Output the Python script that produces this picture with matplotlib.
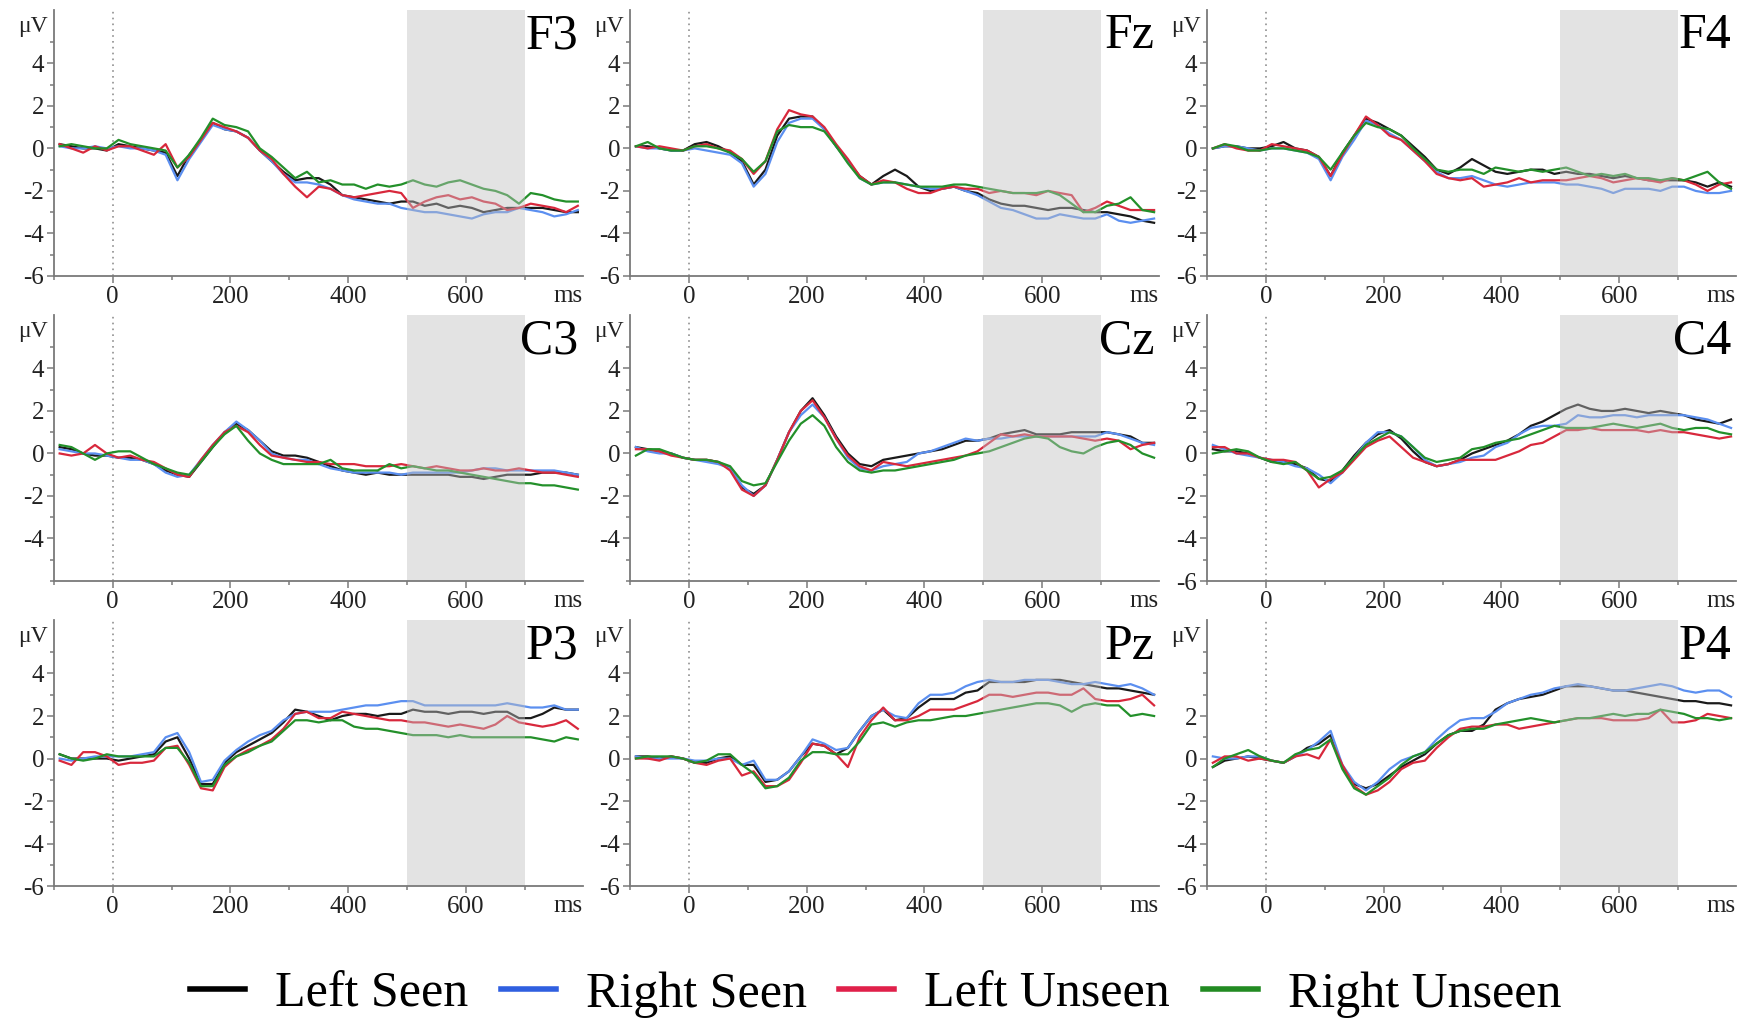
import matplotlib.pyplot as plt
from matplotlib.lines import Line2D
import numpy as np

# sample times (ms) used for every waveform
times = [-90, -70, -50, -30, -10, 10, 30, 50, 70, 90, 110, 130, 150, 170, 190,
         210, 230, 250, 270, 290, 310, 330, 350, 370, 390, 410, 430, 450, 470,
         490, 510, 530, 550, 570, 590, 610, 630, 650, 670, 690, 710, 730, 750,
         770, 790]

channels = ["F3", "Fz", "F4", "C3", "Cz", "C4", "P3", "Pz", "P4"]
conditions = ["Left Seen", "Right Seen", "Left Unseen", "Right Unseen"]
line_colors = ["#1a1a1a", "#5b8ff0", "#d8283c", "#23902a"]
legend_colors = ["#000000", "#2f5fe0", "#e0204a", "#228b22"]

# F3
f3_left_seen = [0.2, 0.1, 0.0, 0.0, -0.1, 0.2, 0.1, 0.0, -0.1, -0.2, -1.3, -0.3, 0.4, 1.2, 0.9, 0.8, 0.5, -0.1, -0.6, -1.1, -1.5, -1.4, -1.4, -1.7, -2.2, -2.3, -2.4, -2.5, -2.6, -2.5, -2.5, -2.7, -2.6, -2.8, -2.7, -2.8, -3.0, -2.9, -2.8, -2.8, -2.8, -2.8, -2.9, -3.0, -3.0]
f3_right_seen = [0.1, 0.0, 0.0, 0.1, 0.0, 0.1, 0.0, 0.0, -0.1, -0.3, -1.5, -0.5, 0.3, 1.1, 0.9, 0.8, 0.5, -0.1, -0.6, -1.2, -1.6, -1.6, -1.7, -1.9, -2.2, -2.4, -2.5, -2.6, -2.6, -2.8, -2.9, -3.0, -3.0, -3.1, -3.2, -3.3, -3.1, -3.0, -3.0, -2.8, -2.9, -3.0, -3.2, -3.1, -2.9]
f3_left_unseen = [0.2, 0.0, -0.2, 0.1, -0.1, 0.1, 0.1, -0.1, -0.3, 0.2, -0.9, -0.4, 0.4, 1.2, 1.0, 0.8, 0.5, -0.1, -0.5, -1.2, -1.8, -2.3, -1.8, -1.9, -2.2, -2.3, -2.2, -2.1, -2.0, -2.1, -2.8, -2.5, -2.3, -2.2, -2.4, -2.3, -2.5, -2.6, -2.9, -2.8, -2.6, -2.7, -2.8, -3.0, -2.7]
f3_right_unseen = [0.1, 0.2, 0.1, 0.0, 0.0, 0.4, 0.2, 0.1, 0.0, -0.1, -0.9, -0.3, 0.5, 1.4, 1.1, 1.0, 0.8, 0.0, -0.4, -0.9, -1.4, -1.1, -1.6, -1.5, -1.7, -1.7, -1.9, -1.7, -1.8, -1.7, -1.5, -1.7, -1.8, -1.6, -1.5, -1.7, -1.9, -2.0, -2.2, -2.6, -2.1, -2.2, -2.4, -2.5, -2.5]

# Fz
fz_left_seen = [0.1, 0.1, 0.0, -0.1, -0.1, 0.2, 0.3, 0.1, -0.2, -0.6, -1.7, -1.0, 0.6, 1.4, 1.5, 1.5, 0.9, 0.1, -0.6, -1.3, -1.7, -1.3, -1.0, -1.3, -1.8, -2.0, -1.9, -1.8, -2.0, -2.1, -2.4, -2.6, -2.7, -2.7, -2.8, -2.9, -2.8, -2.8, -2.9, -3.0, -3.0, -3.1, -3.2, -3.4, -3.5]
fz_right_seen = [0.1, 0.0, 0.0, -0.1, -0.1, 0.0, -0.1, -0.2, -0.3, -0.7, -1.8, -1.2, 0.3, 1.2, 1.4, 1.4, 0.9, 0.1, -0.6, -1.4, -1.7, -1.6, -1.6, -1.7, -1.8, -1.9, -1.9, -1.8, -2.0, -2.2, -2.5, -2.8, -2.9, -3.1, -3.3, -3.3, -3.1, -3.2, -3.3, -3.3, -3.1, -3.4, -3.5, -3.4, -3.3]
fz_left_unseen = [0.1, 0.0, 0.1, 0.0, -0.1, 0.1, 0.2, 0.0, -0.1, -0.5, -1.2, -0.6, 0.9, 1.8, 1.6, 1.5, 1.0, 0.2, -0.5, -1.3, -1.7, -1.5, -1.6, -1.9, -2.1, -2.1, -1.9, -1.8, -1.9, -1.9, -2.1, -2.0, -2.1, -2.1, -2.2, -2.0, -2.1, -2.2, -3.0, -2.8, -2.5, -2.7, -2.9, -2.9, -2.9]
fz_right_unseen = [0.1, 0.3, 0.0, -0.1, -0.1, 0.1, 0.1, 0.0, -0.2, -0.5, -1.1, -0.6, 0.8, 1.1, 1.0, 1.0, 0.8, 0.1, -0.7, -1.4, -1.7, -1.6, -1.6, -1.7, -1.8, -1.8, -1.8, -1.7, -1.7, -1.8, -1.9, -2.0, -2.1, -2.1, -2.1, -2.0, -2.2, -2.6, -3.0, -3.0, -2.7, -2.6, -2.3, -2.9, -3.0]

# F4
f4_left_seen = [0.0, 0.1, 0.1, 0.0, 0.0, 0.1, 0.3, 0.0, -0.1, -0.4, -1.3, -0.2, 0.6, 1.4, 1.2, 0.9, 0.6, 0.1, -0.4, -1.0, -1.2, -0.9, -0.5, -0.8, -1.1, -1.2, -1.1, -1.0, -1.0, -1.2, -1.1, -1.2, -1.2, -1.3, -1.4, -1.3, -1.4, -1.5, -1.5, -1.5, -1.5, -1.6, -1.8, -1.6, -1.8]
f4_right_seen = [0.0, 0.1, 0.1, 0.0, -0.1, 0.0, 0.0, -0.1, -0.2, -0.5, -1.5, -0.4, 0.4, 1.3, 1.1, 0.7, 0.4, -0.1, -0.6, -1.1, -1.4, -1.4, -1.3, -1.5, -1.7, -1.8, -1.7, -1.6, -1.6, -1.6, -1.7, -1.7, -1.8, -1.9, -2.1, -1.9, -1.9, -1.9, -2.0, -1.8, -1.8, -2.0, -2.1, -2.1, -2.0]
f4_left_unseen = [0.0, 0.2, 0.0, -0.1, -0.1, 0.2, 0.1, 0.0, -0.1, -0.4, -1.3, -0.3, 0.6, 1.5, 1.1, 0.6, 0.4, -0.1, -0.6, -1.2, -1.4, -1.5, -1.4, -1.8, -1.7, -1.6, -1.4, -1.6, -1.5, -1.5, -1.5, -1.4, -1.3, -1.4, -1.6, -1.5, -1.4, -1.5, -1.6, -1.4, -1.5, -1.7, -2.0, -1.7, -1.6]
f4_right_unseen = [0.0, 0.2, 0.1, -0.1, -0.1, 0.0, 0.0, -0.1, -0.2, -0.4, -1.0, -0.2, 0.6, 1.2, 1.0, 0.9, 0.6, 0.0, -0.5, -1.0, -1.1, -1.0, -1.0, -1.2, -0.9, -1.0, -1.1, -1.0, -1.1, -1.0, -0.9, -1.1, -1.3, -1.2, -1.3, -1.2, -1.4, -1.4, -1.5, -1.4, -1.5, -1.3, -1.1, -1.6, -1.9]

# C3
c3_left_seen = [0.3, 0.2, 0.0, -0.1, -0.1, -0.2, -0.2, -0.3, -0.5, -0.8, -1.0, -1.1, -0.4, 0.3, 1.0, 1.4, 1.1, 0.6, 0.1, -0.1, -0.1, -0.2, -0.4, -0.6, -0.8, -0.9, -1.0, -0.9, -1.0, -1.0, -1.0, -1.0, -1.0, -1.0, -1.1, -1.1, -1.2, -1.1, -1.0, -1.0, -1.0, -0.9, -0.9, -0.9, -1.0]
c3_right_seen = [0.2, 0.1, 0.0, 0.0, -0.1, -0.2, -0.3, -0.3, -0.5, -0.9, -1.1, -1.0, -0.3, 0.4, 1.0, 1.5, 1.1, 0.6, 0.0, -0.2, -0.3, -0.3, -0.5, -0.7, -0.8, -0.9, -0.9, -0.9, -0.9, -1.0, -0.9, -0.9, -0.9, -0.9, -0.9, -0.8, -0.7, -0.7, -0.8, -0.8, -0.8, -0.8, -0.8, -0.9, -1.0]
c3_left_unseen = [0.0, -0.1, 0.0, 0.4, 0.0, -0.2, -0.1, -0.3, -0.4, -0.7, -1.0, -1.1, -0.3, 0.4, 1.0, 1.3, 1.0, 0.4, -0.1, -0.2, -0.3, -0.4, -0.4, -0.5, -0.5, -0.5, -0.6, -0.6, -0.6, -0.5, -0.6, -0.7, -0.6, -0.7, -0.8, -0.8, -0.7, -0.8, -0.8, -0.7, -0.8, -0.9, -0.9, -1.0, -1.1]
c3_right_unseen = [0.4, 0.3, 0.0, -0.3, 0.0, 0.1, 0.1, -0.2, -0.5, -0.7, -0.9, -1.0, -0.4, 0.3, 0.9, 1.3, 0.6, 0.0, -0.3, -0.5, -0.5, -0.5, -0.5, -0.3, -0.7, -0.8, -0.8, -0.8, -0.5, -0.7, -0.6, -0.7, -0.8, -0.8, -0.9, -1.0, -1.1, -1.2, -1.3, -1.4, -1.4, -1.5, -1.5, -1.6, -1.7]

# Cz
cz_left_seen = [0.3, 0.2, 0.1, 0.0, -0.2, -0.3, -0.3, -0.4, -0.7, -1.6, -1.9, -1.5, -0.3, 1.0, 2.0, 2.6, 1.8, 0.8, 0.0, -0.5, -0.6, -0.3, -0.2, -0.1, 0.0, 0.1, 0.2, 0.4, 0.6, 0.6, 0.7, 0.9, 1.0, 1.1, 0.9, 0.9, 0.9, 1.0, 1.0, 1.0, 1.0, 0.9, 0.8, 0.5, 0.5]
cz_right_seen = [0.3, 0.1, 0.0, 0.0, -0.2, -0.3, -0.4, -0.5, -0.7, -1.5, -2.0, -1.5, -0.3, 1.0, 1.8, 2.3, 1.7, 0.7, -0.2, -0.7, -0.8, -0.6, -0.5, -0.4, 0.0, 0.1, 0.3, 0.5, 0.7, 0.6, 0.7, 0.7, 0.8, 0.8, 0.8, 0.8, 0.8, 0.8, 0.8, 0.8, 1.0, 0.9, 0.7, 0.5, 0.4]
cz_left_unseen = [0.2, 0.2, 0.1, -0.1, -0.2, -0.3, -0.3, -0.4, -0.8, -1.7, -2.0, -1.5, -0.3, 1.0, 2.0, 2.5, 1.7, 0.7, -0.1, -0.6, -0.8, -0.4, -0.5, -0.6, -0.5, -0.4, -0.3, -0.2, -0.1, 0.1, 0.5, 0.9, 0.8, 0.9, 0.8, 0.8, 0.8, 0.8, 0.7, 0.6, 0.7, 0.6, 0.2, 0.4, 0.5]
cz_right_unseen = [-0.1, 0.2, 0.2, 0.0, -0.2, -0.3, -0.3, -0.4, -0.6, -1.3, -1.5, -1.4, -0.4, 0.6, 1.4, 1.8, 1.3, 0.3, -0.4, -0.8, -0.9, -0.8, -0.8, -0.7, -0.6, -0.5, -0.4, -0.3, -0.1, 0.0, 0.1, 0.3, 0.5, 0.7, 0.8, 0.7, 0.3, 0.1, 0.0, 0.3, 0.5, 0.6, 0.4, 0.0, -0.2]

# C4
c4_left_seen = [0.2, 0.1, 0.1, 0.0, -0.2, -0.4, -0.4, -0.5, -0.7, -1.2, -1.3, -0.8, -0.1, 0.5, 0.9, 1.1, 0.7, 0.1, -0.4, -0.6, -0.5, -0.3, 0.0, 0.2, 0.4, 0.6, 0.9, 1.3, 1.5, 1.8, 2.1, 2.3, 2.1, 2.0, 2.0, 2.1, 2.0, 1.9, 2.0, 1.9, 1.8, 1.6, 1.5, 1.4, 1.6]
c4_right_seen = [0.4, 0.2, 0.0, -0.1, -0.2, -0.3, -0.4, -0.6, -0.7, -1.0, -1.4, -0.9, -0.2, 0.5, 1.0, 1.0, 0.8, 0.3, -0.3, -0.6, -0.5, -0.4, -0.2, -0.1, 0.3, 0.5, 0.9, 1.2, 1.3, 1.3, 1.4, 1.8, 1.7, 1.7, 1.8, 1.8, 1.7, 1.8, 1.8, 1.8, 1.8, 1.7, 1.6, 1.4, 1.2]
c4_left_unseen = [0.3, 0.3, 0.0, 0.0, -0.2, -0.3, -0.3, -0.4, -0.8, -1.6, -1.2, -0.9, -0.3, 0.3, 0.6, 0.8, 0.3, -0.2, -0.4, -0.6, -0.5, -0.3, -0.3, -0.3, -0.3, -0.1, 0.1, 0.4, 0.5, 0.8, 1.1, 1.1, 1.2, 1.1, 1.1, 1.1, 1.1, 1.0, 1.1, 1.0, 1.0, 0.9, 0.8, 0.7, 0.8]
c4_right_unseen = [0.0, 0.1, 0.2, 0.1, -0.2, -0.4, -0.5, -0.4, -0.8, -1.2, -1.1, -0.8, -0.2, 0.4, 0.7, 1.0, 0.8, 0.3, -0.2, -0.4, -0.3, -0.2, 0.2, 0.3, 0.5, 0.6, 0.7, 0.9, 1.1, 1.3, 1.2, 1.2, 1.2, 1.3, 1.4, 1.3, 1.2, 1.3, 1.4, 1.2, 1.1, 1.2, 1.2, 1.0, 0.9]

# P3
p3_left_seen = [0.2, 0.0, 0.0, 0.0, 0.0, -0.1, 0.0, 0.1, 0.2, 0.8, 1.0, 0.0, -1.2, -1.2, -0.2, 0.3, 0.6, 0.9, 1.2, 1.7, 2.3, 2.2, 2.0, 1.8, 2.0, 2.1, 2.1, 2.0, 2.1, 2.1, 2.3, 2.2, 2.2, 2.1, 2.2, 2.2, 2.1, 2.2, 2.2, 1.9, 1.9, 2.1, 2.4, 2.3, 2.3]
p3_right_seen = [0.0, -0.1, 0.0, 0.1, 0.1, 0.1, 0.1, 0.2, 0.3, 1.0, 1.2, 0.3, -1.1, -1.0, -0.1, 0.4, 0.8, 1.1, 1.3, 1.8, 2.1, 2.2, 2.2, 2.2, 2.3, 2.4, 2.5, 2.5, 2.6, 2.7, 2.7, 2.5, 2.5, 2.5, 2.5, 2.5, 2.5, 2.5, 2.6, 2.5, 2.4, 2.4, 2.5, 2.3, 2.3]
p3_left_unseen = [-0.1, -0.3, 0.3, 0.3, 0.1, -0.3, -0.2, -0.2, -0.1, 0.5, 0.6, -0.3, -1.4, -1.5, -0.4, 0.1, 0.4, 0.6, 0.9, 1.4, 2.1, 2.2, 1.9, 1.9, 2.2, 2.1, 2.0, 1.9, 1.8, 1.8, 1.7, 1.7, 1.6, 1.5, 1.6, 1.5, 1.4, 1.6, 2.0, 1.7, 1.6, 1.5, 1.6, 1.8, 1.4]
p3_right_unseen = [0.2, 0.0, -0.1, 0.0, 0.2, 0.1, 0.1, 0.1, 0.1, 0.5, 0.5, -0.2, -1.3, -1.3, -0.3, 0.1, 0.3, 0.6, 0.8, 1.3, 1.8, 1.8, 1.7, 1.8, 1.8, 1.5, 1.4, 1.4, 1.3, 1.2, 1.1, 1.1, 1.1, 1.0, 1.1, 1.0, 1.0, 1.0, 1.0, 1.0, 1.0, 0.9, 0.8, 1.0, 0.9]

# Pz
pz_left_seen = [0.1, 0.1, 0.0, 0.1, 0.0, -0.2, -0.2, 0.0, 0.1, -0.3, -0.3, -1.1, -1.0, -0.6, 0.1, 0.7, 0.6, 0.2, 0.5, 1.3, 2.0, 2.3, 1.8, 1.9, 2.4, 2.8, 2.8, 2.8, 3.1, 3.2, 3.6, 3.6, 3.6, 3.6, 3.7, 3.7, 3.7, 3.6, 3.5, 3.4, 3.3, 3.3, 3.2, 3.1, 3.0]
pz_right_seen = [0.1, 0.0, 0.0, 0.0, 0.0, -0.1, -0.1, 0.0, 0.0, -0.3, -0.1, -1.0, -1.0, -0.6, 0.1, 0.9, 0.7, 0.4, 0.5, 1.3, 2.0, 2.3, 2.0, 1.9, 2.6, 3.0, 3.0, 3.1, 3.4, 3.6, 3.7, 3.6, 3.6, 3.7, 3.7, 3.7, 3.6, 3.5, 3.5, 3.6, 3.5, 3.4, 3.5, 3.3, 3.0]
pz_left_unseen = [0.0, 0.0, -0.1, 0.1, 0.0, -0.2, -0.3, -0.1, 0.0, -0.8, -0.6, -1.3, -1.3, -1.0, -0.2, 0.7, 0.6, 0.2, -0.4, 1.0, 1.8, 2.4, 1.8, 1.8, 2.0, 2.3, 2.3, 2.3, 2.5, 2.7, 3.0, 3.0, 2.9, 3.0, 3.1, 3.1, 3.0, 3.0, 3.3, 2.8, 2.7, 2.7, 2.8, 3.0, 2.5]
pz_right_unseen = [0.0, 0.1, 0.1, 0.1, 0.0, -0.2, -0.1, 0.2, 0.2, -0.3, -0.7, -1.4, -1.3, -0.9, -0.1, 0.3, 0.3, 0.2, 0.2, 0.8, 1.6, 1.7, 1.5, 1.7, 1.8, 1.8, 1.9, 2.0, 2.0, 2.1, 2.2, 2.3, 2.4, 2.5, 2.6, 2.6, 2.5, 2.2, 2.5, 2.6, 2.5, 2.5, 2.0, 2.1, 2.0]

# P4
p4_left_seen = [-0.4, -0.1, 0.0, 0.1, 0.0, -0.1, -0.2, 0.1, 0.5, 0.7, 1.1, -0.4, -1.2, -1.4, -1.2, -0.8, -0.4, -0.1, 0.2, 0.7, 1.1, 1.3, 1.3, 1.6, 2.3, 2.6, 2.8, 2.9, 3.0, 3.2, 3.4, 3.4, 3.4, 3.3, 3.2, 3.2, 3.1, 3.0, 2.9, 2.8, 2.7, 2.7, 2.6, 2.6, 2.5]
p4_right_seen = [0.1, 0.0, 0.0, 0.1, 0.1, -0.1, -0.2, 0.1, 0.4, 0.8, 1.3, -0.3, -1.1, -1.5, -1.1, -0.5, -0.1, 0.1, 0.3, 0.9, 1.4, 1.8, 1.9, 1.9, 2.2, 2.6, 2.8, 3.0, 3.1, 3.3, 3.4, 3.5, 3.4, 3.3, 3.2, 3.2, 3.3, 3.4, 3.5, 3.4, 3.2, 3.1, 3.2, 3.2, 2.9]
p4_left_unseen = [-0.2, 0.1, 0.1, -0.1, 0.0, -0.1, -0.2, 0.1, 0.2, 0.0, 0.9, -0.3, -1.3, -1.7, -1.5, -1.1, -0.5, -0.2, -0.1, 0.5, 1.0, 1.4, 1.5, 1.5, 1.6, 1.6, 1.4, 1.5, 1.6, 1.7, 1.8, 1.9, 1.9, 1.9, 1.8, 1.8, 1.8, 1.9, 2.3, 1.7, 1.7, 1.8, 2.1, 2.0, 1.9]
p4_right_unseen = [-0.4, 0.0, 0.2, 0.4, 0.1, -0.1, -0.2, 0.2, 0.4, 0.5, 0.9, -0.5, -1.4, -1.7, -1.3, -0.9, -0.3, 0.1, 0.3, 0.7, 1.1, 1.3, 1.4, 1.4, 1.6, 1.7, 1.8, 1.9, 1.8, 1.7, 1.8, 1.9, 1.9, 2.0, 2.1, 2.0, 2.1, 2.1, 2.3, 2.2, 2.1, 1.9, 1.9, 1.8, 1.9]

waves = {
    "F3": [f3_left_seen, f3_right_seen, f3_left_unseen, f3_right_unseen],
    "Fz": [fz_left_seen, fz_right_seen, fz_left_unseen, fz_right_unseen],
    "F4": [f4_left_seen, f4_right_seen, f4_left_unseen, f4_right_unseen],
    "C3": [c3_left_seen, c3_right_seen, c3_left_unseen, c3_right_unseen],
    "Cz": [cz_left_seen, cz_right_seen, cz_left_unseen, cz_right_unseen],
    "C4": [c4_left_seen, c4_right_seen, c4_left_unseen, c4_right_unseen],
    "P3": [p3_left_seen, p3_right_seen, p3_left_unseen, p3_right_unseen],
    "Pz": [pz_left_seen, pz_right_seen, pz_left_unseen, pz_right_unseen],
    "P4": [p4_left_seen, p4_right_seen, p4_left_unseen, p4_right_unseen],
}

# labelled y ticks differ a little between panels
ytick_values = {
    "F3": [-6, -4, -2, 0, 2, 4], "Fz": [-6, -4, -2, 0, 2, 4], "F4": [-6, -4, -2, 0, 2, 4],
    "C3": [-4, -2, 0, 2, 4], "Cz": [-4, -2, 0, 2, 4], "C4": [-6, -4, -2, 0, 2, 4],
    "P3": [-6, -4, -2, 0, 2, 4], "Pz": [-6, -4, -2, 0, 2, 4], "P4": [-6, -4, -2, 0, 2],
}
xtick_values = [0, 200, 400, 600]
window = (500, 700)

serif = "Liberation Serif"
axis_gray = "#7a7a7a"
plt.rcParams["axes.unicode_minus"] = False


def draw_panel(ax, name):
    t = np.array(times)
    for vals, col in zip(waves[name], line_colors):
        ax.plot(t, vals, color=col, lw=1.6, zorder=2)
    # shaded window sits on top of the traces, making them look faded
    ax.axvspan(window[0], window[1], color="#c0c0c0", alpha=0.44, lw=0, zorder=3)
    ax.axvline(0, color="#909090", lw=1.2, ls=(0, (1, 2.5)), zorder=1)

    ax.set_xlim(-95, 798)
    ax.set_ylim(-6, 6.5)
    for s in ["top", "right"]:
        ax.spines[s].set_visible(False)
    for s in ["left", "bottom"]:
        ax.spines[s].set_color(axis_gray)
        ax.spines[s].set_linewidth(1.3)
        ax.spines[s].set_zorder(4)

    ax.set_xticks(xtick_values)
    ax.set_xticks(np.arange(-100, 800, 100), minor=True)
    ax.set_yticks(ytick_values[name])
    ax.set_yticks(np.arange(-6, 6, 1), minor=True)
    ax.tick_params(which="both", color=axis_gray, width=1.1, labelcolor="#222222",
                   labelsize=18)
    ax.tick_params(which="major", length=5)
    ax.tick_params(which="minor", length=3)
    ax.tick_params(axis="x", pad=2)
    ax.tick_params(axis="y", pad=2)
    for lab in ax.get_xticklabels() + ax.get_yticklabels():
        lab.set_family(serif)

    ax.text(1.0, -0.098, "ms", transform=ax.transAxes, ha="right", va="baseline",
            fontsize=18, family=serif, color="#222222")
    ax.text(-0.012, 0.94, "\u03bcV", transform=ax.transAxes, ha="right", va="center",
            fontsize=17, family=serif, color="#222222")
    ax.text(0.992, 0.99, name, transform=ax.transAxes, ha="right", va="top",
            fontsize=36, family=serif, color="black", zorder=6)


if __name__ == "__main__":
    fig = plt.figure(figsize=(17.51, 10.22), dpi=100)
    lefts = [0.0307, 0.3598, 0.6893]
    bottoms = [0.730, 0.4315, 0.133]
    for i, name in enumerate(channels):
        ax = fig.add_axes([lefts[i % 3], bottoms[i // 3], 0.302, 0.260])
        draw_panel(ax, name)

    handles = [Line2D([], [], color=c, lw=4) for c in legend_colors]
    fig.legend(handles, conditions, loc="center", bbox_to_anchor=(0.5, 0.027), ncol=4,
               frameon=False, prop={"family": serif, "size": 36}, handlelength=1.1,
               handletextpad=0.6, columnspacing=0.65)

    plt.savefig("out.png", dpi=100)
